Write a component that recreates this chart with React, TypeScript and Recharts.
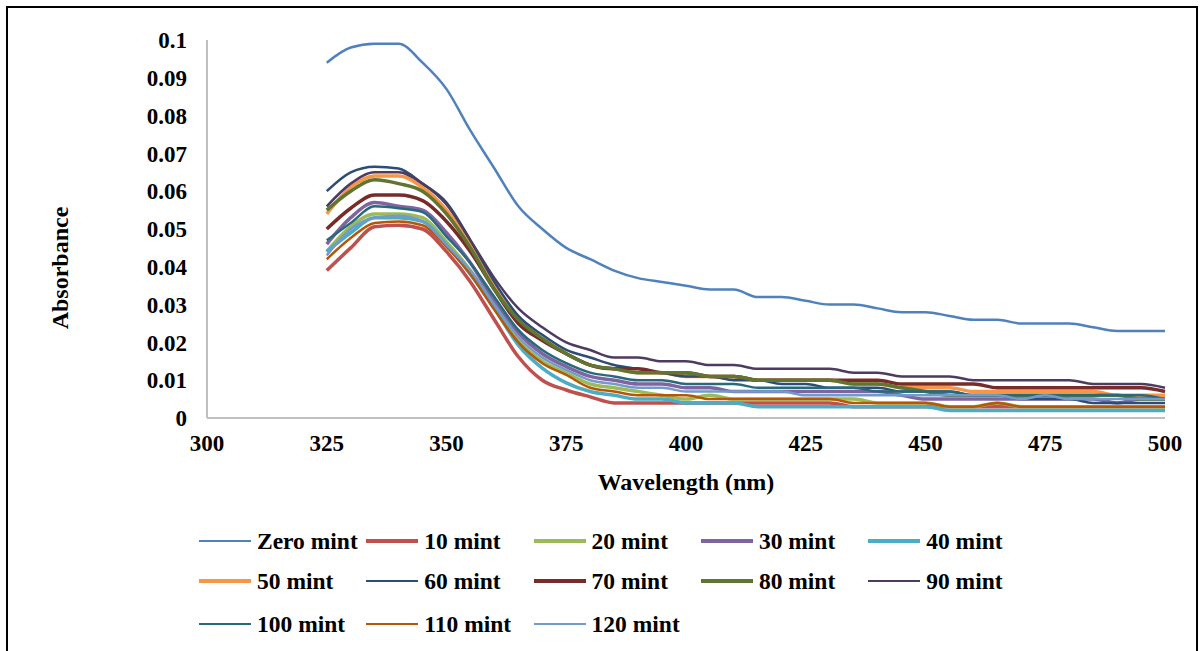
import React from 'react';
import { LineChart, Line, XAxis, YAxis } from 'recharts';

// wavelength grid (nm) every 5 nm
const wavelengths = [
  325, 330, 335, 340, 345, 350, 355, 360, 365, 370, 375, 380, 385, 390, 395, 400, 405, 410,
  415, 420, 425, 430, 435, 440, 445, 450, 455, 460, 465, 470, 475, 480, 485, 490, 495, 500,
];

const zeroMint = [
  0.094, 0.098, 0.099, 0.099, 0.094, 0.087, 0.076, 0.066, 0.056, 0.05, 0.045, 0.042, 0.039, 0.037,
  0.036, 0.035, 0.034, 0.034, 0.032, 0.032, 0.031, 0.03, 0.03, 0.029, 0.028, 0.028, 0.027, 0.026,
  0.026, 0.025, 0.025, 0.025, 0.024, 0.023, 0.023, 0.023,
];
const mint10 = [
  0.039, 0.045, 0.0506, 0.051, 0.05, 0.044, 0.036, 0.026, 0.0162, 0.01, 0.0074, 0.0056, 0.004,
  0.004, 0.004, 0.004, 0.004, 0.004, 0.004, 0.004, 0.004, 0.004, 0.003, 0.003, 0.003, 0.003, 0.003,
  0.003, 0.003, 0.003, 0.003, 0.003, 0.003, 0.003, 0.003, 0.003,
];
const mint20 = [
  0.044, 0.0506, 0.054, 0.054, 0.053, 0.0466, 0.039, 0.0295, 0.0206, 0.015, 0.0119, 0.009, 0.008,
  0.007, 0.006, 0.005, 0.006, 0.005, 0.005, 0.005, 0.005, 0.005, 0.005, 0.004, 0.004, 0.004, 0.003,
  0.003, 0.004, 0.003, 0.003, 0.003, 0.003, 0.003, 0.003, 0.003,
];
const mint30 = [
  0.046, 0.053, 0.057, 0.056, 0.055, 0.049, 0.041, 0.031, 0.0225, 0.017, 0.0136, 0.011, 0.01, 0.009,
  0.009, 0.008, 0.008, 0.007, 0.007, 0.007, 0.007, 0.007, 0.007, 0.007, 0.006, 0.005, 0.005, 0.005,
  0.005, 0.005, 0.005, 0.005, 0.005, 0.004, 0.005, 0.005,
];
const mint40 = [
  0.044, 0.049, 0.053, 0.053, 0.052, 0.0458, 0.038, 0.029, 0.0193, 0.0132, 0.0093, 0.007, 0.006,
  0.005, 0.005, 0.004, 0.004, 0.004, 0.003, 0.003, 0.003, 0.003, 0.003, 0.003, 0.003, 0.003, 0.002,
  0.002, 0.002, 0.002, 0.002, 0.002, 0.002, 0.002, 0.002, 0.002,
];
const mint50 = [
  0.054, 0.061, 0.064, 0.064, 0.061, 0.055, 0.046, 0.035, 0.026, 0.021, 0.017, 0.014, 0.013, 0.012,
  0.012, 0.011, 0.011, 0.011, 0.01, 0.01, 0.01, 0.01, 0.009, 0.009, 0.008, 0.008, 0.008, 0.007,
  0.007, 0.007, 0.007, 0.007, 0.007, 0.006, 0.006, 0.006,
];
const mint60 = [
  0.06, 0.065, 0.0665, 0.066, 0.062, 0.057, 0.047, 0.036, 0.027, 0.022, 0.018, 0.016, 0.014, 0.013,
  0.012, 0.011, 0.011, 0.01, 0.01, 0.009, 0.009, 0.008, 0.008, 0.008, 0.007, 0.007, 0.007, 0.006,
  0.006, 0.005, 0.005, 0.005, 0.004, 0.004, 0.004, 0.004,
];
const mint70 = [
  0.05, 0.0555, 0.059, 0.059, 0.0575, 0.052, 0.044, 0.034, 0.025, 0.0205, 0.017, 0.014, 0.013,
  0.013, 0.012, 0.012, 0.011, 0.011, 0.01, 0.01, 0.01, 0.01, 0.01, 0.01, 0.009, 0.009, 0.009, 0.009,
  0.008, 0.008, 0.008, 0.008, 0.008, 0.008, 0.008, 0.007,
];
const mint80 = [
  0.055, 0.06, 0.063, 0.062, 0.06, 0.054, 0.045, 0.034, 0.026, 0.021, 0.017, 0.014, 0.013, 0.012,
  0.012, 0.012, 0.011, 0.011, 0.01, 0.01, 0.01, 0.01, 0.009, 0.009, 0.008, 0.007, 0.006, 0.006,
  0.006, 0.006, 0.006, 0.006, 0.006, 0.006, 0.005, 0.005,
];
const mint90 = [
  0.056, 0.062, 0.065, 0.065, 0.062, 0.0565, 0.047, 0.037, 0.029, 0.024, 0.02, 0.018, 0.016, 0.016,
  0.015, 0.015, 0.014, 0.014, 0.013, 0.013, 0.013, 0.013, 0.012, 0.012, 0.011, 0.011, 0.011, 0.01,
  0.01, 0.01, 0.01, 0.01, 0.009, 0.009, 0.009, 0.008,
];
const mint100 = [
  0.047, 0.0516, 0.056, 0.0555, 0.0545, 0.048, 0.041, 0.032, 0.0233, 0.018, 0.0145, 0.012, 0.011,
  0.01, 0.01, 0.009, 0.009, 0.009, 0.008, 0.008, 0.008, 0.008, 0.008, 0.007, 0.007, 0.007, 0.007,
  0.006, 0.006, 0.006, 0.006, 0.006, 0.006, 0.006, 0.006, 0.005,
];
const mint110 = [
  0.042, 0.0476, 0.0516, 0.052, 0.051, 0.0453, 0.038, 0.0286, 0.02, 0.0145, 0.0114, 0.008, 0.007,
  0.006, 0.006, 0.006, 0.005, 0.005, 0.005, 0.005, 0.005, 0.005, 0.004, 0.004, 0.004, 0.004, 0.003,
  0.003, 0.004, 0.003, 0.003, 0.003, 0.003, 0.003, 0.003, 0.003,
];
const mint120 = [
  0.043, 0.05, 0.053, 0.0535, 0.052, 0.0458, 0.039, 0.03, 0.0215, 0.016, 0.0127, 0.01, 0.009, 0.008,
  0.008, 0.007, 0.007, 0.007, 0.007, 0.007, 0.006, 0.006, 0.006, 0.006, 0.006, 0.006, 0.006, 0.006,
  0.006, 0.005, 0.006, 0.005, 0.005, 0.005, 0.005, 0.005,
];

const xTicks = [300, 325, 350, 375, 400, 425, 450, 475, 500];
const yTicks = [0, 0.01, 0.02, 0.03, 0.04, 0.05, 0.06, 0.07, 0.08, 0.09, 0.1];

const series = [
  { key: 'zero', name: 'Zero mint', values: zeroMint, color: '#4F81BD', width: 2.5 },
  { key: 'm10', name: '10 mint', values: mint10, color: '#C0504D', width: 3.5 },
  { key: 'm20', name: '20 mint', values: mint20, color: '#9BBB59', width: 3.5 },
  { key: 'm30', name: '30 mint', values: mint30, color: '#8064A2', width: 3.5 },
  { key: 'm40', name: '40 mint', values: mint40, color: '#4BACC6', width: 3.5 },
  { key: 'm50', name: '50 mint', values: mint50, color: '#F79646', width: 3.5 },
  { key: 'm60', name: '60 mint', values: mint60, color: '#2C4D75', width: 2.5 },
  { key: 'm70', name: '70 mint', values: mint70, color: '#772C2A', width: 3.5 },
  { key: 'm80', name: '80 mint', values: mint80, color: '#5F7530', width: 3.5 },
  { key: 'm90', name: '90 mint', values: mint90, color: '#4D3B62', width: 2.5 },
  { key: 'm100', name: '100 mint', values: mint100, color: '#276A7C', width: 2.5 },
  { key: 'm110', name: '110 mint', values: mint110, color: '#B65708', width: 2.5 },
  { key: 'm120', name: '120 mint', values: mint120, color: '#729ACA', width: 2.5 },
];

const data = wavelengths.map((wl, i) => {
  const row: Record<string, number> = { wl };
  series.forEach(s => {
    row[s.key] = s.values[i];
  });
  return row;
});

const FONT = '"Liberation Serif", "Times New Roman", serif';
const tickStyle = { fill: '#000', fontFamily: FONT, fontSize: 23, fontWeight: 'bold' as const };

const legendRowTops = [527, 567, 610];

export default function App() {
  return (
    <div
      style={{
        position: 'fixed',
        left: 0,
        top: 0,
        width: 1202,
        height: 651,
        overflow: 'hidden',
        background: '#fff',
        fontFamily: FONT,
      }}
    >
      {/* outer frame */}
      <div
        style={{
          position: 'absolute',
          left: 6,
          top: 6,
          width: 1188,
          height: 700,
          border: '2px solid #000',
        }}
      />

      <div style={{ position: 'absolute', left: 0, top: 0 }}>
        <LineChart
          width={1202}
          height={651}
          data={data}
          margin={{ top: 40, right: 37, left: 0, bottom: 193 }}
        >
          <XAxis
            dataKey="wl"
            type="number"
            domain={[300, 500]}
            ticks={xTicks}
            height={40}
            tickLine={false}
            tickSize={0}
            tickMargin={17}
            axisLine={{ stroke: '#BFBFBF', strokeWidth: 2 }}
            tick={tickStyle}
          />
          <YAxis
            type="number"
            domain={[0, 0.1]}
            ticks={yTicks}
            width={207}
            tickLine={false}
            tickSize={0}
            tickMargin={20}
            axisLine={{ stroke: '#BFBFBF', strokeWidth: 2 }}
            tick={tickStyle}
            tickFormatter={v => String(v)}
          />
          {series.map(s => (
            <Line
              key={s.key}
              type="monotone"
              dataKey={s.key}
              name={s.name}
              stroke={s.color}
              strokeWidth={s.width}
              dot={false}
              isAnimationActive={false}
            />
          ))}
        </LineChart>
      </div>

      {/* axis titles */}
      <div
        style={{
          position: 'absolute',
          left: 60,
          top: 268,
          transform: 'translate(-50%, -50%) rotate(-90deg)',
          fontSize: 24,
          fontWeight: 'bold',
          whiteSpace: 'nowrap',
        }}
      >
        Absorbance
      </div>
      <div
        style={{
          position: 'absolute',
          left: 686,
          top: 482,
          transform: 'translate(-50%, -50%)',
          fontSize: 24,
          fontWeight: 'bold',
          whiteSpace: 'nowrap',
        }}
      >
        Wavelength (nm)
      </div>

      {/* legend */}
      {series.map((s, i) => (
        <div
          key={s.key}
          style={{
            position: 'absolute',
            left: 199 + (i % 5) * 167.3,
            top: legendRowTops[Math.floor(i / 5)],
            display: 'flex',
            alignItems: 'center',
            height: 28,
            fontSize: 23.5,
            fontWeight: 'bold',
            whiteSpace: 'nowrap',
          }}
        >
          <span
            style={{
              display: 'inline-block',
              width: 52,
              height: s.width,
              background: s.color,
              marginRight: 6,
            }}
          />
          {s.name}
        </div>
      ))}
    </div>
  );
}
